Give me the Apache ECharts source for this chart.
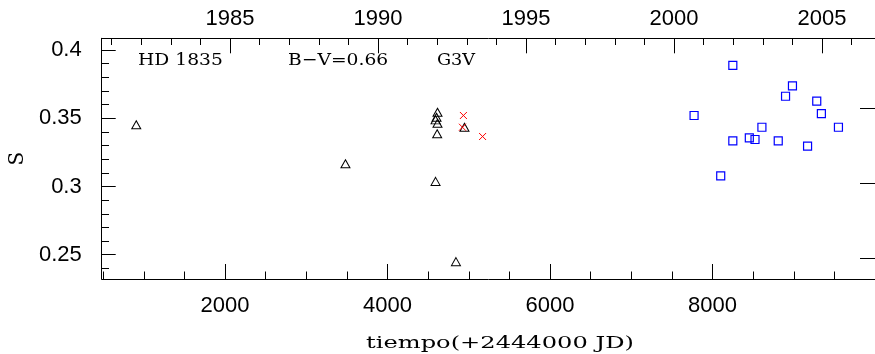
<!DOCTYPE html>
<html><head><meta charset="utf-8">
<script src="https://cdn.jsdelivr.net/npm/echarts@6/dist/echarts.min.js"></script>
<style>html,body{margin:0;padding:0;background:#fff;}#c{width:875px;height:354px;}</style>
</head><body><div id="c"></div>
<script>
// ---- data (tiempo = JD - 2444000, S index) ----
const triT   = [907, 3482, 4591, 4842, 4615, 4603, 4591, 4615, 4611, 4947];
const triS   = [0.3452, 0.3166, 0.3037, 0.2449, 0.3544, 0.3507, 0.3488, 0.3463, 0.3386, 0.3434];
const crossT = [4934, 4922, 5170];
const crossS = [0.3520, 0.3434, 0.3366];
const sqT    = [8250, 8984, 8899, 9283, 9340, 7773, 8608, 9550, 8453, 8523, 8250, 8809, 9170, 8101];
const sqS    = [0.3888, 0.3737, 0.3661, 0.3625, 0.3534, 0.3520, 0.3434, 0.3434, 0.3356, 0.3344, 0.3334, 0.3334, 0.3295, 0.3078];

// ---- tick labels / tick positions ----
const xMajorTicks = [2000, 4000, 6000, 8000];
const xMinorTicks = [500, 1000, 1500, 2500, 3000, 3500, 4500, 5000, 5500, 6500, 7000, 7500, 8500, 9000, 9500];
const yearMajorTicks = [1985, 1990, 1995, 2000, 2005];
const yearMinorTicks = [1981, 1982, 1983, 1984, 1986, 1987, 1988, 1989, 1991, 1992, 1993, 1994, 1996, 1997, 1998, 1999, 2001, 2002, 2003, 2004, 2006];
const sMajorTicks = [0.25, 0.3, 0.35, 0.4];
const sMinorTicks = [0.24, 0.26, 0.27, 0.28, 0.29, 0.31, 0.32, 0.33, 0.34, 0.36, 0.37, 0.38, 0.39];
const rightTicks = [0, 1, 2];

const labelsText = ['HD 1835', 'B\u2212V=0.66', 'G3V'];
const xTitle = 'tiempo(+2444000 JD)';
const yTitle = 'S';

const zip = (a, b) => a.map((v, i) => [v, b[i]]);
const BLACK = '#000';
const sans = 'Liberation Sans, Arial, sans-serif';
const serif = 'DejaVu Serif, serif';
const plain = v => String(v);

const chart = echarts.init(document.getElementById('c'), null, {renderer: 'canvas'});

function tickAxis(base, ticks, len) {
  return Object.assign({
    type: 'value',
    axisLine: {show: false, onZero: false},
    axisLabel: {show: false},
    splitLine: {show: false},
    axisTick: {show: true, inside: true, length: len, customValues: ticks, lineStyle: {color: BLACK, width: 1}}
  }, base);
}

chart.setOption({
  animation: false,
  backgroundColor: '#fff',
  grid: {left: 101.7, top: 38.3, width: 783.6, height: 240.7},
  xAxis: [
    {
      type: 'value', position: 'bottom', min: 482, max: 10000,
      axisLine: {show: true, onZero: false, lineStyle: {color: BLACK, width: 1}},
      axisTick: {show: true, inside: true, length: 15, customValues: xMajorTicks, lineStyle: {color: BLACK, width: 1}},
      axisLabel: {customValues: xMajorTicks, formatter: plain, margin: 16, fontSize: 22, fontFamily: sans, color: BLACK},
      splitLine: {show: false}
    },
    tickAxis({position: 'bottom', min: 482, max: 10000}, xMinorTicks, 7.5),
    {
      type: 'value', position: 'top', min: 1980.667, max: 2006.79,
      axisLine: {show: true, onZero: false, lineStyle: {color: BLACK, width: 1}},
      axisTick: {show: true, inside: true, length: 15, customValues: yearMajorTicks, lineStyle: {color: BLACK, width: 1}},
      axisLabel: {customValues: yearMajorTicks, formatter: plain, margin: 8, fontSize: 22, fontFamily: sans, color: BLACK},
      splitLine: {show: false}
    },
    tickAxis({position: 'top', min: 1980.667, max: 2006.79}, yearMinorTicks, 6.7)
  ],
  yAxis: [
    {
      type: 'value', position: 'left', min: 0.23219, max: 0.40857,
      axisLine: {show: true, onZero: false, lineStyle: {color: BLACK, width: 1}},
      axisTick: {show: true, inside: true, length: 14, customValues: sMajorTicks, lineStyle: {color: BLACK, width: 1}},
      axisLabel: {customValues: sMajorTicks, formatter: plain, margin: 20, fontSize: 22, fontFamily: sans, color: BLACK},
      splitLine: {show: false},
      name: yTitle, nameLocation: 'middle', nameRotate: 90, nameGap: 68,
      nameTextStyle: {fontFamily: serif, fontSize: 20, color: BLACK}
    },
    tickAxis({position: 'left', min: 0.23219, max: 0.40857}, sMinorTicks, 7.3),
    {
      type: 'value', position: 'right', min: -0.2707, max: 2.9387,
      axisLine: {show: true, onZero: false, lineStyle: {color: BLACK, width: 1}},
      axisTick: {show: true, inside: true, length: 15, customValues: rightTicks, lineStyle: {color: BLACK, width: 1}},
      axisLabel: {show: false},
      splitLine: {show: false}
    }
  ],
  graphic: [
    {type: 'text', x: 138, y: 61, scaleX: 1.1, style: {text: labelsText[0], font: '17px ' + serif, fill: BLACK, align: 'left', verticalAlign: 'middle'}},
    {type: 'text', x: 288, y: 61, scaleX: 1.1, style: {text: labelsText[1], font: '17px ' + serif, fill: BLACK, align: 'left', verticalAlign: 'middle'}},
    {type: 'text', x: 437, y: 61, scaleX: 1.04, style: {text: labelsText[2], font: '17px ' + serif, fill: BLACK, align: 'left', verticalAlign: 'middle'}},
    {type: 'text', x: 500, y: 344, scaleX: 1.42, style: {text: xTitle, font: '17px ' + serif, fill: BLACK, align: 'center', verticalAlign: 'middle'}}
  ],
  series: [
    {
      type: 'scatter', xAxisIndex: 0, yAxisIndex: 0, data: zip(triT, triS),
      symbol: 'triangle', symbolSize: [9, 8],
      itemStyle: {color: 'rgba(0,0,0,0)', borderColor: BLACK, borderWidth: 1, opacity: 1}
    },
    {
      type: 'scatter', xAxisIndex: 0, yAxisIndex: 0, data: zip(crossT, crossS),
      symbol: 'path://M0,0L10,10M0,10L10,0', symbolSize: 7,
      itemStyle: {color: 'rgba(0,0,0,0)', borderColor: '#ff0000', borderWidth: 1, opacity: 1}
    },
    {
      type: 'scatter', xAxisIndex: 0, yAxisIndex: 0, data: zip(sqT, sqS),
      symbol: 'rect', symbolSize: 8,
      itemStyle: {color: 'rgba(0,0,0,0)', borderColor: '#0000ff', borderWidth: 1.2, opacity: 1}
    }
  ]
});
</script>
</body></html>
